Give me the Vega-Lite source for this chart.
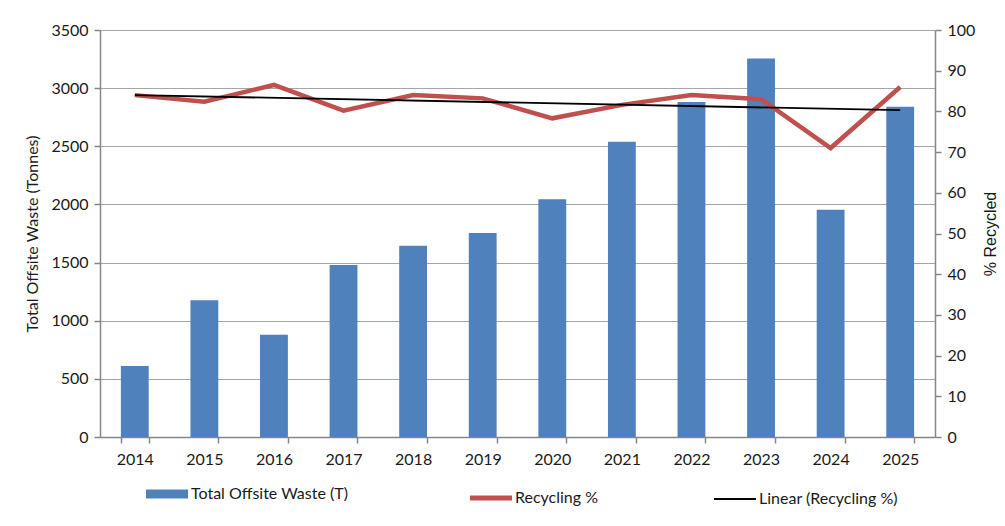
{
  "$schema": "https://vega.github.io/schema/vega-lite/v6.json",
  "width": 835,
  "height": 407,
  "autosize": "none",
  "padding": {"left": 100, "top": 30, "right": 70, "bottom": 89},
  "background": "white",
  "config": {
    "font": "Lato",
    "view": {"stroke": null},
    "axis": {
      "labelFont": "Lato",
      "labelFontSize": 16,
      "labelColor": "#1a1a1a",
      "titleFont": "Lato",
      "titleFontSize": 16,
      "titleFontWeight": "normal",
      "titleColor": "#1a1a1a",
      "domainColor": "#868686",
      "tickColor": "#868686",
      "gridColor": "#a6a6a6",
      "domainWidth": 1.5,
      "tickWidth": 1.5
    }
  },
  "datasets": {
    "waste": [
      {"year": "2014", "series": "Total Offsite Waste (T)", "tonnes": 610},
      {"year": "2015", "series": "Total Offsite Waste (T)", "tonnes": 1175},
      {"year": "2016", "series": "Total Offsite Waste (T)", "tonnes": 880},
      {"year": "2017", "series": "Total Offsite Waste (T)", "tonnes": 1480},
      {"year": "2018", "series": "Total Offsite Waste (T)", "tonnes": 1645},
      {"year": "2019", "series": "Total Offsite Waste (T)", "tonnes": 1755},
      {"year": "2020", "series": "Total Offsite Waste (T)", "tonnes": 2045},
      {"year": "2021", "series": "Total Offsite Waste (T)", "tonnes": 2540},
      {"year": "2022", "series": "Total Offsite Waste (T)", "tonnes": 2880},
      {"year": "2023", "series": "Total Offsite Waste (T)", "tonnes": 3255},
      {"year": "2024", "series": "Total Offsite Waste (T)", "tonnes": 1955},
      {"year": "2025", "series": "Total Offsite Waste (T)", "tonnes": 2840}
    ],
    "pct": [
      {"year": "2014", "series": "Recycling %", "pct": 84.0},
      {"year": "2015", "series": "Recycling %", "pct": 82.4},
      {"year": "2016", "series": "Recycling %", "pct": 86.5},
      {"year": "2017", "series": "Recycling %", "pct": 80.2},
      {"year": "2018", "series": "Recycling %", "pct": 84.0},
      {"year": "2019", "series": "Recycling %", "pct": 83.2},
      {"year": "2020", "series": "Recycling %", "pct": 78.3},
      {"year": "2021", "series": "Recycling %", "pct": 81.6},
      {"year": "2022", "series": "Recycling %", "pct": 84.0},
      {"year": "2023", "series": "Recycling %", "pct": 83.0},
      {"year": "2024", "series": "Recycling %", "pct": 71.0},
      {"year": "2025", "series": "Recycling %", "pct": 86.0},
      {"year": "2014", "series": "Linear (Recycling %)", "pct": 84.0},
      {"year": "2025", "series": "Linear (Recycling %)", "pct": 80.3}
    ]
  },
  "encoding": {
    "x": {
      "field": "year",
      "type": "ordinal",
      "scale": {"domain": ["2014","2015","2016","2017","2018","2019","2020","2021","2022","2023","2024","2025"], "paddingInner": 0.6, "paddingOuter": 0.3},
      "axis": {"title": null, "labelAngle": 0, "tickBand": "extent", "tickSize": 6, "labelPadding": 8, "grid": false}
    },
    "color": {
      "field": "series",
      "type": "nominal",
      "scale": {
        "domain": ["Total Offsite Waste (T)", "Recycling %", "Linear (Recycling %)"],
        "range": ["#4f81bd", "#c0504d", "#000000"]
      },
      "legend": {
        "title": null,
        "orient": "none",
        "legendX": 59,
        "legendY": 456,
        "direction": "horizontal",
        "symbolType": "stroke",
        "symbolSize": 1764,
        "symbolStrokeWidth": 4,
        "labelFont": "Lato",
        "labelFontSize": 16,
        "labelColor": "#1a1a1a",
        "columnPadding": 111,
        "labelOffset": 16,
        "encode": {
          "symbols": {
            "update": {
              "stroke": {"scale": "color", "field": "value"},
              "strokeWidth": {"signal": "datum.value === 'Total Offsite Waste (T)' ? 9 : (datum.value === 'Recycling %' ? 5 : 2)"}
            }
          }
        }
      }
    }
  },
  "layer": [
    {
      "data": {"name": "waste"},
      "mark": {"type": "bar", "color": "#4f81bd"},
      "encoding": {
        "y": {
          "field": "tonnes",
          "type": "quantitative",
          "scale": {"domain": [0, 3500]},
          "axis": {"title": "Total Offsite Waste (Tonnes)", "format": "d", "values": [0,500,1000,1500,2000,2500,3000,3500], "tickSize": 6, "labelPadding": 6, "titlePadding": 10, "grid": true}
        }
      }
    },
    {
      "data": {"name": "pct"},
      "encoding": {
        "y": {
          "field": "pct",
          "type": "quantitative",
          "scale": {"domain": [0, 100]},
          "axis": {"orient": "right", "title": "% Recycled", "titleFont": "Liberation Sans", "titleAngle": 270, "values": [0,10,20,30,40,50,60,70,80,90,100], "tickSize": 6, "labelPadding": 6, "titlePadding": 24, "grid": false}
        }
      },
      "layer": [
        {
          "transform": [{"filter": "datum.series === 'Recycling %'"}],
          "mark": {"type": "line", "strokeWidth": 4.5}
        },
        {
          "transform": [{"filter": "datum.series === 'Linear (Recycling %)'"}],
          "mark": {"type": "line", "strokeWidth": 1.8}
        }
      ]
    }
  ],
  "resolve": {"scale": {"y": "independent"}}
}
